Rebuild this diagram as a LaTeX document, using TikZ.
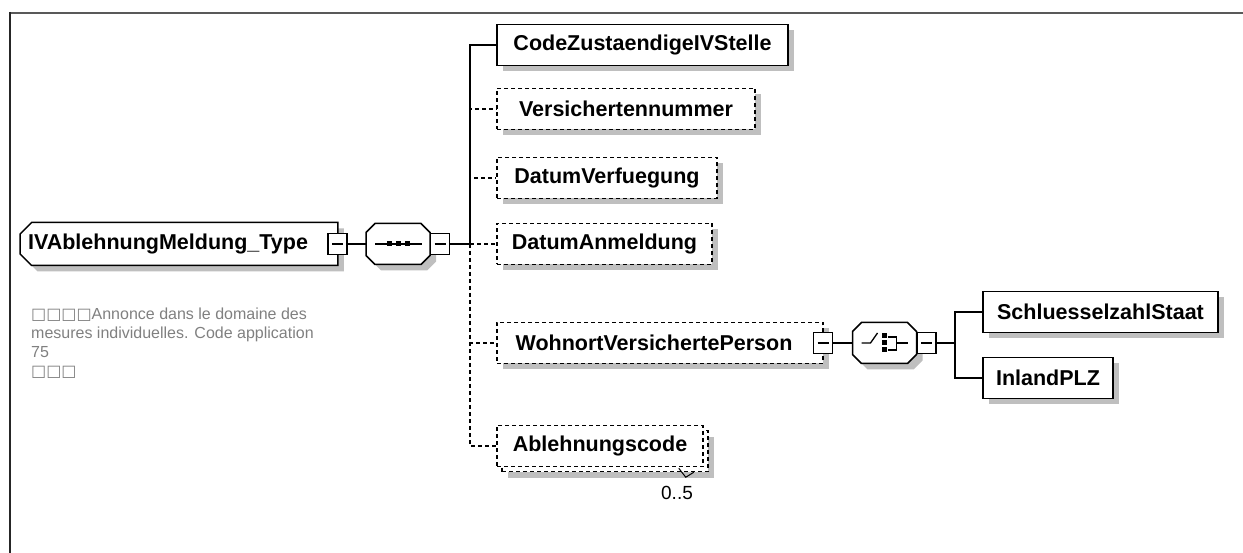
\documentclass[tikz,border=0pt]{standalone}
\usepackage{fontspec}
\setmainfont{Liberation Sans}
\newfontfamily\symfont{DejaVu Sans}
\usepackage{tikz}
\usetikzlibrary{shapes.misc, shadows, positioning}

\begin{document}
\begin{tikzpicture}[
    x=1pt, y=-1pt,
    box/.style={draw=black, line width=1.5pt, fill=white, inner sep=0pt, minimum height=41pt, font=\fontsize{21.5}{24}\selectfont\bfseries},
    shadowed/.style={drop shadow={shadow xshift=6pt, shadow yshift=-6pt, fill=black!25, opacity=1}},
    elembox/.style={box, shadowed},
    optbox/.style={elembox, dash pattern=on 4pt off 3pt},
    stackbox/.style={box, dash pattern=on 4pt off 3pt},
    rootbox/.style={elembox, chamfered rectangle, chamfered rectangle corners={north west, south west}, chamfered rectangle xsep=8pt, minimum height=43pt},
    compbox/.style={inner sep=0pt, minimum width=64pt, minimum height=41pt},
    compshape/.pic={
        \fill[black!25, shift={(6,6)}] (-23,-20.5) -- (23,-20.5) -- (32,-11.5) -- (32,11.5) -- (23,20.5) -- (-23,20.5) -- (-32,11.5) -- (-32,-11.5) -- cycle;
        \draw[line width=1.5pt, fill=white] (-23,-20.5) -- (23,-20.5) -- (32,-11.5) -- (32,11.5) -- (23,20.5) -- (-23,20.5) -- (-32,11.5) -- (-32,-11.5) -- cycle;
    },
    minusbox/.style={draw=black, line width=1.5pt, fill=white, inner sep=0pt, minimum width=19pt, minimum height=21pt,
        path picture={\draw[line width=1.2pt] ([xshift=4pt]path picture bounding box.west) -- ([xshift=-4pt]path picture bounding box.east);}},
    glyph/.style={line width=1.3pt},
    link/.style={line width=1.5pt},
    optlink/.style={link, dash pattern=on 4pt off 3pt},
    note/.style={align=left, anchor=north west, inner sep=0pt, text=black!50, font=\fontsize{16}{19}\selectfont}
]
    \useasboundingbox (0,0) rectangle (1243,553);
    \draw[line width=1.8pt, black!65] (9,12.8) -- (1243,12.8);
    \draw[line width=1.8pt, black!85] (9.8,12) -- (9.8,553);

    % Root type and its sequence.
    \node[rootbox, minimum width=317pt] (root) at (179,244) {IVAblehnungMeldung\_Type\hspace*{22pt}};
    \node[minusbox] (rootminus) at (337.5,244) {};
    \node[compbox] (seq) at (398,244) {};
    \pic at (seq) {compshape};
    \node[minusbox] (seqminus) at (440,244) {};
    \draw[glyph] ([xshift=-23pt]seq.center) -- ([xshift=24pt]seq.center);
    \foreach \dx in {-9,0,9}
        \fill ([shift={(\dx,0)}]seq.center) +(-2.5,-2.5) rectangle +(2.5,2.5);

    \node[note] (doc) at (31,308) {{\symfont □□□□}Annonce dans le domaine des\\mesures individuelles. Code application\\75\\{\symfont □□□}};

    % Sequence children.
    \node[elembox, minimum width=291pt] (code) at (642.5,45) {CodeZustaendigeIVStelle};
    \node[optbox, minimum width=258pt] (vers) at (626,109) {Versichertennummer};
    \node[optbox, minimum width=220pt] (datumv) at (607,178) {DatumVerfuegung};
    \node[optbox, minimum width=215pt] (datuma) at (604.5,244) {DatumAnmeldung};
    \node[optbox, minimum width=326pt] (wohnort) at (660,343) {WohnortVersichertePerson\hspace*{12pt}};
    \node[minusbox] (wohnortminus) at (823,343) {};
    \node[stackbox, shadowed, minimum width=206pt] (ablehnungback) at (605,451) {};
    \node[stackbox, minimum width=206pt] (ablehnung) at (600,446) {Ablehnungscode};
    \node[font=\fontsize{19}{22}\selectfont, inner sep=0pt] (occurs) at (677,493) {0..5};
    \draw[line width=1pt] ([shift={(-30,-4)}]ablehnungback.south east) -- ([shift={(-23,5)}]ablehnungback.south east) -- ([shift={(-15,0)}]ablehnungback.south east);

    \coordinate (seqbus) at (470,244);
    \draw[link] (rootminus) -- (seq);
    \draw[link] (seqminus) -- (seqbus);
    \draw[link] (seqbus) |- (code);
    \draw[optlink] (seqbus) |- (vers);
    \draw[optlink] (seqbus) |- (datumv);
    \draw[optlink] (seqbus) -- (datuma);
    \draw[optlink] (seqbus) |- (wohnort);
    \draw[optlink] (seqbus) |- (ablehnung);

    % Choice under WohnortVersichertePerson.
    \node[compbox] (choice) at (884.5,343) {};
    \pic at (choice) {compshape};
    \node[minusbox] (choiceminus) at (926.5,343) {};
    \draw[glyph] ([shift={(-23,0)}]choice.center) -- ([shift={(-14,0)}]choice.center) -- ([shift={(-7,-10)}]choice.center);
    \foreach \dy in {-7,0,7}
        \fill ([shift={(0,\dy)}]choice.center) +(-2.5,-2.5) rectangle +(2.5,2.5);
    \draw[glyph] ([shift={(3,-6)}]choice.center) -- ([shift={(12,-6)}]choice.center) -- ([shift={(12,7)}]choice.center) -- ([shift={(3,7)}]choice.center);
    \draw[glyph] ([shift={(12,0)}]choice.center) -- ([shift={(23,0)}]choice.center);

    \node[elembox, minimum width=235pt] (schluessel) at (1100.5,312) {SchluesselzahlStaat};
    \node[elembox, minimum width=130pt] (inland) at (1048,378) {InlandPLZ};

    \coordinate (choicebus) at (955,343);
    \draw[link] (wohnortminus) -- (choice);
    \draw[link] (choiceminus) -- (choicebus);
    \draw[link] (choicebus) |- (schluessel);
    \draw[link] (choicebus) |- (inland);
\end{tikzpicture}
\end{document}
